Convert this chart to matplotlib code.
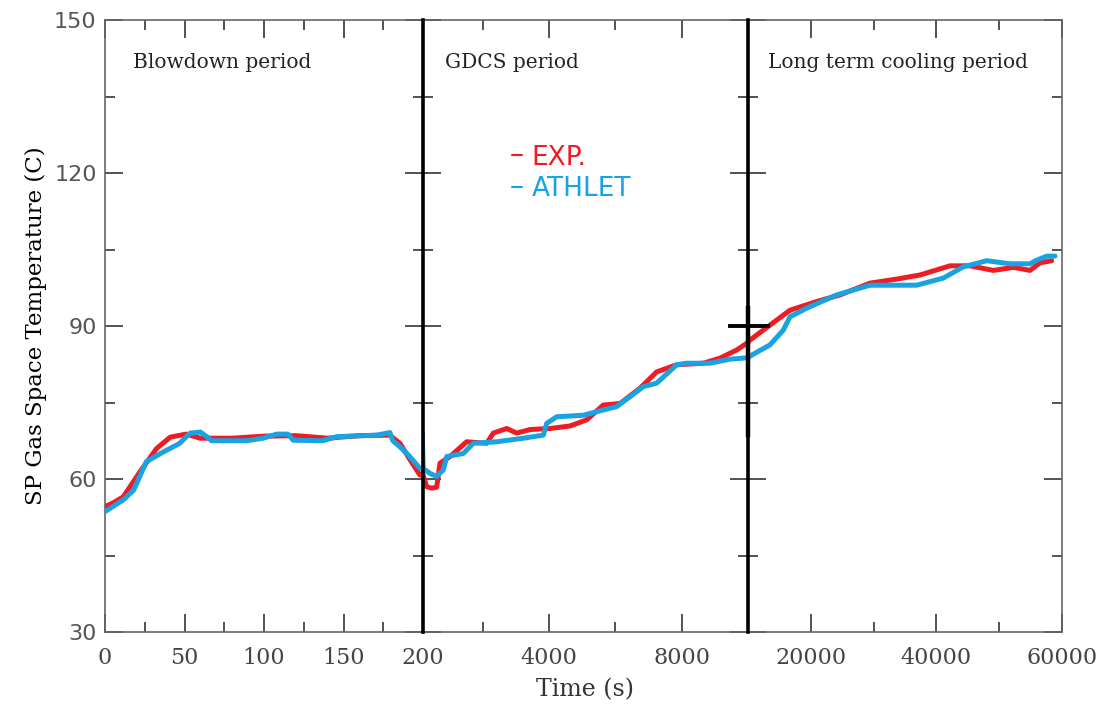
import matplotlib
matplotlib.use("Agg")
import matplotlib.pyplot as plt
from matplotlib.ticker import FixedLocator

# ---------------- data ----------------
exp_t = [0, 5, 11.5, 22, 32.5, 41, 51, 60, 80, 100, 120, 140, 160, 179, 185.5, 192, 198,
         311, 462, 613, 713, 1014, 1518, 2121, 2320, 2724, 3026, 3427, 4030, 4633, 5137,
         5637, 6141, 6744, 7247, 7851, 8653, 9156, 9660, 10050, 12436, 16688, 20940,
         24650, 29427, 33678, 37389, 42166, 45350, 49066, 52251, 54904, 56497, 58360]
exp_T = [54.6, 55.3, 56.5, 61.4, 66.0, 68.2, 68.8, 68.0, 68.0, 68.4, 68.5, 68.0, 68.5, 68.6,
         67.0, 63.7, 60.8, 58.5, 58.2, 58.4, 63.1, 64.4, 67.3, 67.0, 69.0, 69.9, 69.0, 69.7,
         69.9, 70.4, 71.6, 74.5, 74.8, 77.8, 81.0, 82.4, 82.7, 83.7, 85.3, 87.0, 89.2, 93.1,
         94.8, 96.1, 98.4, 99.2, 100.0, 101.8, 101.8, 100.9, 101.5, 100.9, 102.4, 102.8]

athlet_t = [0, 11.5, 18, 26, 36.7, 47, 53.5, 60, 64, 67, 89, 99.5, 108, 115, 118.4, 137,
            145.7, 170.9, 179.2, 181, 185.5, 190.8, 198, 260, 411, 613, 813, 915, 1415,
            1717, 2422, 3225, 3828, 3930, 4232, 5034, 5438, 6041, 6844, 7247, 7851, 8152,
            8855, 9458, 9859, 10318, 13503, 15626, 16688, 19347, 24124, 29427, 36863,
            41099, 44283, 48010, 51720, 54904, 55966, 57560, 58886]
athlet_T = [53.6, 55.9, 57.8, 63.4, 65.3, 67.0, 69.0, 69.2, 68.3, 67.5, 67.5, 68.0, 68.8,
            68.8, 67.6, 67.5, 68.3, 68.6, 69.1, 67.5, 66.3, 64.7, 62.1, 61.8, 61.1, 60.5,
            61.8, 64.4, 65.0, 67.0, 67.3, 68.0, 68.6, 70.9, 72.2, 72.5, 73.2, 74.2, 78.1,
            78.8, 82.4, 82.7, 82.7, 83.5, 83.7, 84.1, 86.3, 89.2, 91.8, 93.5, 96.1, 98.0,
            98.0, 99.4, 101.6, 102.8, 102.2, 102.2, 102.9, 103.7, 103.7]

panel_titles = ["Blowdown period", "GDCS period", "Long term cooling period"]
panel_xlims = [(0, 200), (200, 10000), (10000, 60000)]
major_x = [[0, 50, 100, 150, 200], [4000, 8000], [20000, 40000, 60000]]
minor_x = [[25, 75, 125, 175], [2000, 6000], [30000, 50000]]
major_y = [30, 60, 90, 120, 150]
minor_y = [45, 75, 105, 135]
series_names = ["EXP.", "ATHLET"]

RED = "#ee1c25"
BLUE = "#1aa3e3"
GRAY = "#666666"

W, H = 1110, 710
fig = plt.figure(figsize=(W / 100, H / 100), dpi=100)

edges = [105, 423, 748, 1062]
title_x = [0.088, 0.068, 0.064]
top, bot = 20, 632
axes = []
for i in range(3):
    x0, x1 = edges[i], edges[i + 1]
    ax = fig.add_axes([x0 / W, 1 - bot / H, (x1 - x0) / W, (bot - top) / H])
    axes.append(ax)

for i, ax in enumerate(axes):
    ax.plot(exp_t, exp_T, color=RED, lw=3.6, solid_capstyle="round", label=series_names[0], zorder=3)
    ax.plot(athlet_t, athlet_T, color=BLUE, lw=3.6, solid_capstyle="round", label=series_names[1], zorder=4)
    ax.set_xlim(*panel_xlims[i])
    ax.set_ylim(30, 150)
    ax.set_xticks(major_x[i], labels=[str(v) for v in major_x[i]],
                  fontfamily="DejaVu Serif", fontsize=16, color="#444444")
    ax.xaxis.set_minor_locator(FixedLocator(minor_x[i]))
    ax.set_yticks(major_y, labels=[str(v) for v in major_y],
                  fontfamily="DejaVu Sans", fontsize=16, color="#555555")
    ax.yaxis.set_minor_locator(FixedLocator(minor_y))
    ax.tick_params(which="both", direction="in", top=True, right=True, color="#444444", width=1.3)
    ax.tick_params(which="major", length=13)
    ax.tick_params(which="minor", length=7)
    ax.tick_params(axis="x", pad=11)
    ax.tick_params(axis="y", pad=6)
    for s in ax.spines.values():
        s.set_color(GRAY)
        s.set_linewidth(1.2)
    ax.text(title_x[i], 0.931, panel_titles[i], transform=ax.transAxes, fontsize=14.5,
            family="DejaVu Serif", color="#222222", va="center", ha="left")
    if i > 0:
        ax.tick_params(axis="y", labelleft=False)
        ax.spines["left"].set_color("black")
        ax.spines["left"].set_linewidth(2.6)
        ax.spines["left"].set_zorder(5)
    if i < 2:
        ax.spines["right"].set_visible(False)

axes[0].set_ylabel("SP Gas Space Temperature (C)", family="DejaVu Serif", fontsize=16.5, labelpad=5)

# x label centred under the whole plot
fig.text(585 / W, 1 - 690 / H, "Time (s)", family="DejaVu Serif", fontsize=17,
         ha="center", va="center", color="#333333")

# emphasised tick at the GDCS / long-term boundary
ax3 = axes[2]
ax3.plot([10000, 10000], [68.6, 93.5], color="black", lw=3.2, clip_on=False, zorder=6)
ax3.plot([10000 - 18 / 0.00628, 10000 + 20 / 0.00628], [90, 90], color="black",
         lw=2.8, clip_on=False, zorder=6)

leg = axes[1].legend(loc="upper left", bbox_to_anchor=(0.2, 0.835), frameon=False,
                     handlelength=0.4, handletextpad=0.35, labelspacing=0.2,
                     labelcolor="linecolor", prop={"family": "DejaVu Sans", "size": 19})
for h in leg.legend_handles:
    h.set_linewidth(1.5)

fig.savefig("out.png", dpi=100)
